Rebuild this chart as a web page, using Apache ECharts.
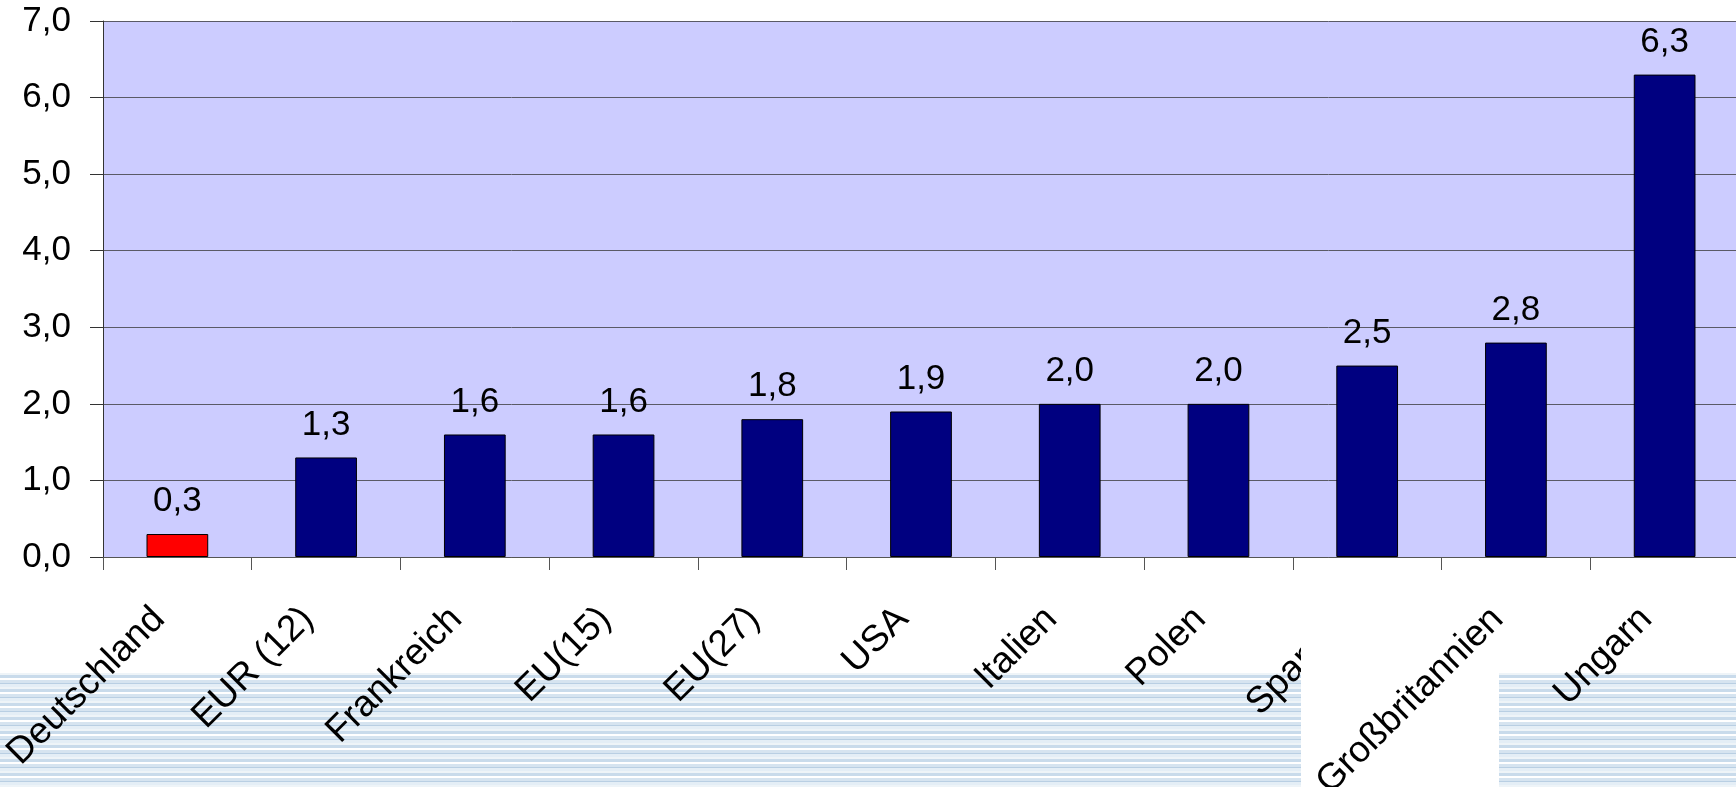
<!DOCTYPE html>
<html>
<head>
<meta charset="utf-8">
<script src="https://cdn.jsdelivr.net/npm/echarts@6/dist/echarts.min.js"></script>
<style>
	html, body { margin: 0; padding: 0; background: #fff; }
	#wrap { position: relative; width: 1736px; height: 787px; overflow: hidden; }
	/* gestreifter Streifen unten */
	#stripes {
		position: absolute; left: 0; top: 673px; width: 1736px; height: 114px;
		background: repeating-linear-gradient(to bottom,
			#eef4f8 0px, #eef4f8 2px,
			#c9dbeb 2px, #c9dbeb 5px,
			#ffffff 5px, #ffffff 7px,
			#d6e4f0 7px, #d6e4f0 10px,
			#b9cfe3 10px, #b9cfe3 11px,
			#e4eef6 11px, #e4eef6 14px);
	}
	/* weisser Kasten, liegt ueber dem Spanien-Label */
	#whitebox { position: absolute; left: 1301px; top: 578px; width: 198px; height: 209px; background: #fff; z-index: 2; }
	#main { position: absolute; left: 0; top: 0; width: 1736px; height: 787px; z-index: 1; }
	#oben { position: absolute; left: 0; top: 0; width: 1736px; height: 787px; z-index: 3; pointer-events: none; }
</style>
</head>
<body>
<div id="wrap">
	<div id="stripes"></div>
	<div id="main"></div>
	<div id="whitebox"></div>
	<div id="oben"></div>
</div>
<script type="text/javascript">
var laender = ['Deutschland', 'EUR (12)', 'Frankreich', 'EU(15)', 'EU(27)', 'USA', 'Italien', 'Polen', 'Spanien', 'Großbritannien', 'Ungarn'];
var werte = [0.3, 1.3, 1.6, 1.6, 1.8, 1.9, 2.0, 2.0, 2.5, 2.8, 6.3];
var farben = ['#ff0000', '#000080', '#000080', '#000080', '#000080', '#000080', '#000080', '#000080', '#000080', '#000080', '#000080'];
var obenAuf = 'Großbritannien';   // dieses Label liegt auf dem weissen Kasten

var schrift = 'Liberation Sans, Arial, sans-serif';

function komma(v){
	return Number(v).toFixed(1).replace('.', ',');
}

var daten = [];
for (var i = 0; i < werte.length; i++) {
	daten.push({ value: werte[i], itemStyle: { color: farben[i] } });
}

var gridBasis = {
	left: 103, top: 21, width: 1636, height: 536,
	outerBoundsMode: 'none', containLabel: false
};
var labelBasis = {
	rotate: 45, interval: 0, margin: 38, padding: [0, 26, 0, 0],
	color: '#000', fontSize: 37, fontFamily: schrift
};

// Hauptdiagramm
var myChart = echarts.init(document.getElementById('main'), null, { renderer: 'canvas' });
var option = {
	backgroundColor: 'transparent',
	animation: false,
	textStyle: { fontFamily: schrift },
	grid: Object.assign({}, gridBasis, { show: true, backgroundColor: '#ccccff', borderWidth: 0 }),
	xAxis: {
		type: 'category',
		data: laender,
		axisLine: { lineStyle: { color: '#555', width: 1 } },
		axisTick: { show: true, length: 13, lineStyle: { color: '#555' } },
		axisLabel: Object.assign({}, labelBasis, {
			formatter: function(v){ return v === obenAuf ? '' : v; }
		})
	},
	yAxis: {
		type: 'value',
		min: 0, max: 7, interval: 1,
		axisLine: { show: true, lineStyle: { color: '#333', width: 1 } },
		axisTick: { show: true, length: 13, lineStyle: { color: '#333' } },
		axisLabel: {
			margin: 32, color: '#000', fontSize: 35, fontFamily: schrift,
			formatter: komma
		},
		splitLine: { lineStyle: { color: '#5a5a66', width: 1 } }
	},
	series: [{
		type: 'bar',
		data: daten,
		barWidth: '41.5%',
		itemStyle: { borderColor: '#000', borderWidth: 1 },
		label: {
			show: true, position: 'top', distance: 15,
			color: '#000', fontSize: 35, fontFamily: schrift,
			formatter: function(p){ return komma(p.value); }
		}
	}]
};
myChart.setOption(option);

// zweite Ebene: nur das Label auf dem weissen Kasten
var obenChart = echarts.init(document.getElementById('oben'), null, { renderer: 'canvas' });
obenChart.setOption({
	backgroundColor: 'transparent',
	animation: false,
	grid: gridBasis,
	xAxis: {
		type: 'category',
		data: laender,
		axisLine: { show: false },
		axisTick: { show: false },
		splitLine: { show: false },
		axisLabel: Object.assign({}, labelBasis, {
			formatter: function(v){ return v === obenAuf ? v : ''; }
		})
	},
	yAxis: {
		type: 'value', min: 0, max: 7, interval: 1, show: false
	},
	series: []
});
</script>
</body>
</html>
